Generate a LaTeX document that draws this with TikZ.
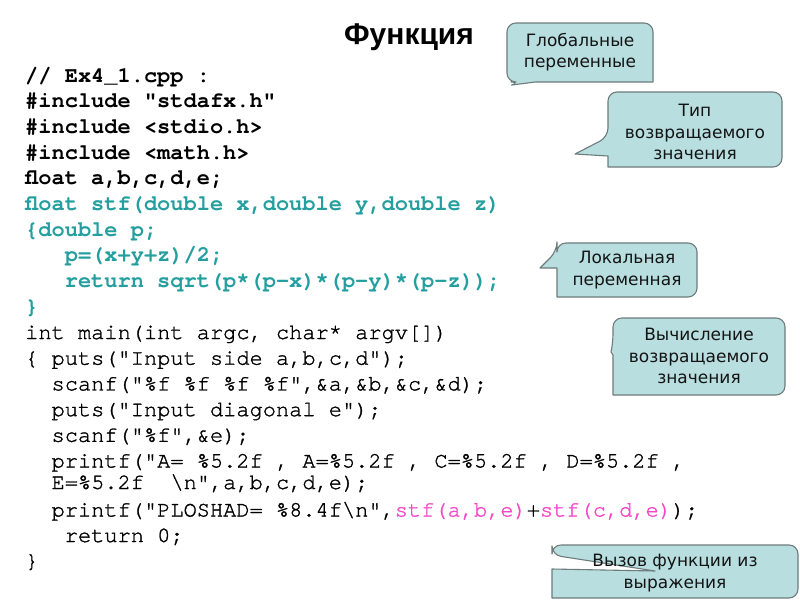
\documentclass[tikz,border=0pt]{standalone}
\usepackage{fontspec}
\setmainfont{Liberation Sans}
\setmonofont{TeX Gyre Cursor}
\newfontfamily\coderegfont{TeX Gyre Cursor}[FakeBold=1.3]
\newfontfamily\calloutfont{DejaVu Sans}
\newfontfamily\titlefont{Liberation Sans}
\definecolor{codeteal}{RGB}{36,158,158}
\definecolor{codepink}{RGB}{245,70,200}
\definecolor{cfill}{RGB}{184,222,224}
\definecolor{cline}{RGB}{110,124,124}
\definecolor{ctext}{RGB}{20,20,20}
\begin{document}
\frenchspacing
\begin{tikzpicture}[x=1pt,y=-1pt,
  codeb/.style={anchor=base west,inner sep=0pt,font=\ttfamily\bfseries\fontsize{22}{26}\selectfont},
  coder/.style={anchor=base west,inner sep=0pt,font=\coderegfont\fontsize{22}{26}\selectfont},
  teal/.style={text=codeteal},
  cbox/.style={fill=cfill,draw=cline,line width=1.1pt,line join=round},
  ctxt/.style={inner sep=0pt,align=center,text=ctext,font=\calloutfont\fontsize{17}{21.5}\selectfont}]
\useasboundingbox (0,0) rectangle (800,600);
\fill[white] (0,0) rectangle (800,600);
% title
\node[anchor=base,inner sep=0pt,font=\titlefont\bfseries\fontsize{30}{34}\selectfont] (title) at (409,44) {Функция};
% code
\node[codeb] (l0) at (25,82) {// Ex4\_1.cpp :};
\node[codeb] (l1) at (25,107.7) {\#include "stdafx.h"};
\node[codeb] (l2) at (25,133.4) {\#include <stdio.h>};
\node[codeb] (l3) at (25,159.1) {\#include <math.h>};
\node[codeb] (l4) at (25,184.8) {float a,b,c,d,e;};
\node[codeb,teal] (l5) at (25,210.5) {float stf(double x,double y,double z)};
\node[codeb,teal] (l6) at (25,236.2) {\{double p;};
\node[codeb,teal] (l7) at (64.6,261.9) {p=(x+y+z)/2;};
\node[codeb,teal] (l8) at (64.6,287.6) {return sqrt(p*(p-x)*(p-y)*(p-z));};
\node[codeb,teal] (l9) at (25,313.3) {\}};
\node[coder] (l10) at (25,339) {int main(int argc, char* argv[])};
\node[coder] (l11) at (25,364.7) {\{ puts("Input side a,b,c,d");};
\node[coder] (l12) at (51.4,390.4) {scanf("\%f \%f \%f \%f",\&a,\&b,\&c,\&d);};
\node[coder] (l13) at (51.4,416.1) {puts("Input diagonal e");};
\node[coder] (l14) at (51.4,441.8) {scanf("\%f",\&e);};
\node[coder] (l15) at (51.4,467.5) {printf("A= \%5.2f , A=\%5.2f , C=\%5.2f , D=\%5.2f ,};
\node[coder] (l16) at (51.4,489) {E=\%5.2f\ \ \textbackslash n",a,b,c,d,e);};
\node[coder] (l17) at (51.4,516.5) {printf("PLOSHAD= \%8.4f\textbackslash n",\textcolor{codepink}{stf(a,b,e)}+\textcolor{codepink}{stf(c,d,e)});};
\node[coder] (l18) at (64.6,542) {return 0;};
\node[coder] (l19) at (25,567.5) {\}};
% callout 1
\draw[cbox] (512,85) -- (535,82) -- (653,82) [rounded corners=9pt] -- (653,23) -- (507,23) -- (507,82) -- (520,82) [sharp corners] -- cycle;
\node[ctxt] (c1) at (580,52) {Глобальные\\переменные};
% callout 2
\draw[cbox] (575,154) -- (608,156) -- (608,167) [rounded corners=9pt] -- (782,167) -- (782,92) -- (608,92) -- (608,137) [sharp corners] -- cycle;
\node[ctxt] (c2) at (695,132) {Тип\\возвращаемого\\значения};
% callout 3
\draw[cbox] (540,268) -- (557,268) -- (557,297) [rounded corners=9pt] -- (697,297) -- (697,243) -- (557,243) -- (557,251) [sharp corners] -- cycle;
\node[ctxt] (c3) at (627,270) {Локальная\\переменная};
% callout 4
\draw[cbox] (611,352) -- (613,355) -- (613,395) [rounded corners=9pt] -- (785,395) -- (785,318) -- (613,318) -- (613,343) [sharp corners] -- cycle;
\node[ctxt] (c4) at (699,356) {Вычисление\\возвращаемого\\значения};
% callout 5
\draw[cbox] (655,571) -- (552,569) -- (552,598) [rounded corners=9pt] -- (798,598) -- (798,545) -- (552,545) -- (552,555) [sharp corners] -- cycle;
\node[ctxt] (c5) at (675,573) {Вызов функции из\\выражения};
\end{tikzpicture}
\end{document}
